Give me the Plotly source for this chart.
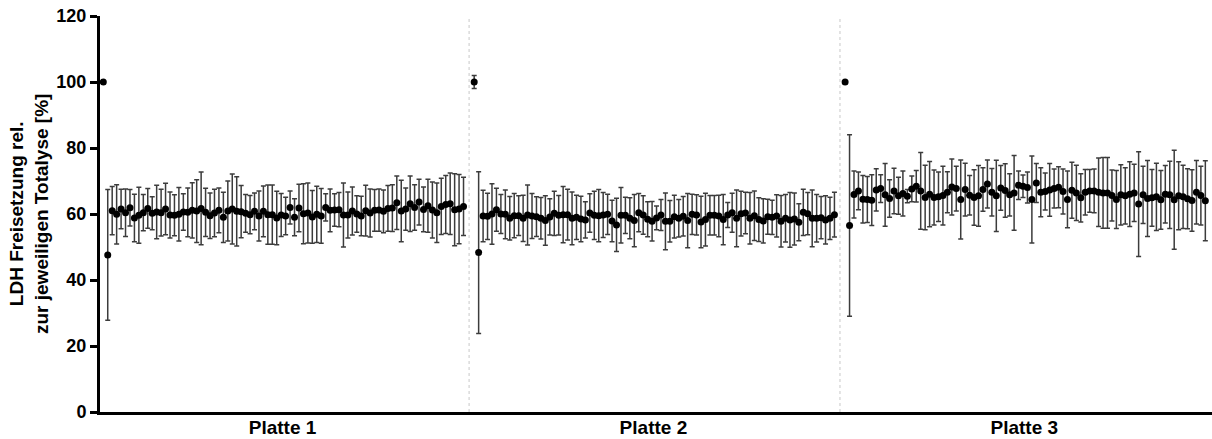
import plotly.graph_objects as go

plates = ["Platte 1", "Platte 2", "Platte 3"]

# controls per plate: total lysis and untreated control
total_mean = [100.0, 100.0, 100.0]
total_sd = [0.0, 2.0, 0.0]
ctrl_mean = [47.6, 48.3, 56.5]
ctrl_sd = [19.8, 24.5, 27.5]

plate1_mean = [61.0, 59.9, 61.5, 60.4, 61.9, 58.8, 59.6, 60.4, 61.7, 60.2,
               60.6, 60.4, 61.5, 59.7, 59.6, 59.9, 60.6, 60.5, 61.1, 60.9,
               61.7, 60.5, 59.5, 60.3, 61.1, 59.0, 60.9, 61.5, 60.8, 60.7,
               60.2, 59.8, 60.8, 59.4, 60.8, 59.8, 59.8, 58.8, 59.7, 59.4,
               62.0, 59.0, 61.8, 60.1, 60.3, 59.1, 59.9, 59.4, 62.0, 61.1,
               61.2, 61.3, 59.7, 59.7, 60.9, 60.0, 59.4, 61.0, 60.3, 61.1,
               61.2, 60.8, 61.7, 61.8, 63.4, 60.9, 61.5, 63.1, 62.0, 63.6,
               61.4, 62.5, 61.2, 60.4, 62.3, 62.9, 63.1, 61.3, 61.5, 62.3]
plate1_sd = [7.3, 9.0, 6.0, 7.2, 5.5, 7.2, 8.5, 5.5, 6.0, 5.0,
             8.1, 7.1, 7.8, 7.0, 6.2, 8.1, 5.5, 7.4, 8.4, 9.5,
             11.0, 7.3, 6.9, 7.2, 6.8, 7.6, 9.1, 10.6, 10.5, 7.9,
             5.7, 5.8, 5.6, 7.6, 7.7, 9.0, 9.0, 8.1, 6.5, 5.7,
             5.0, 5.6, 7.2, 9.1, 9.1, 8.0, 8.5, 8.3, 4.1, 6.5,
             4.9, 5.2, 9.7, 7.0, 7.3, 5.5, 6.0, 7.7, 7.3, 6.3,
             6.4, 6.5, 6.9, 7.1, 8.1, 9.3, 6.4, 8.4, 6.9, 6.9,
             6.8, 8.0, 8.5, 9.0, 8.5, 8.8, 9.3, 10.9, 10.5, 8.8]

plate2_mean = [59.4, 59.3, 60.0, 61.3, 60.0, 59.9, 58.7, 59.5, 59.5, 58.7,
               59.7, 59.4, 59.2, 58.7, 58.0, 59.1, 60.2, 59.6, 59.8, 59.8,
               58.7, 59.0, 58.5, 58.2, 60.3, 59.6, 59.5, 59.7, 59.9, 57.9,
               56.7, 59.6, 59.6, 58.7, 58.0, 60.4, 59.7, 58.4, 57.8, 58.8,
               59.7, 57.8, 57.8, 59.2, 58.7, 59.3, 58.0, 59.9, 59.7, 57.6,
               58.3, 59.6, 59.6, 59.4, 58.3, 59.7, 60.4, 58.7, 60.1, 60.3,
               58.7, 59.5, 58.3, 57.9, 59.2, 59.0, 59.4, 57.8, 58.7, 58.2,
               58.5, 57.5, 60.5, 60.1, 58.7, 58.7, 58.9, 58.2, 58.7, 59.8]
plate2_sd = [7.8, 7.0, 9.2, 6.5, 5.9, 7.4, 6.6, 6.7, 6.0, 7.0,
             9.1, 6.8, 6.0, 6.3, 7.5, 5.5, 6.7, 6.0, 8.5, 7.7,
             8.0, 6.7, 6.9, 5.5, 5.8, 7.3, 7.9, 6.8, 6.1, 6.3,
             8.1, 8.4, 5.5, 6.2, 7.9, 5.8, 5.8, 5.3, 6.0, 3.6,
             4.7, 8.6, 6.3, 6.5, 5.7, 6.0, 8.2, 6.1, 6.1, 7.8,
             8.0, 6.0, 6.0, 6.3, 7.6, 3.8, 5.9, 8.6, 6.8, 6.3,
             7.8, 7.5, 6.6, 6.7, 5.3, 5.2, 6.4, 7.8, 7.2, 8.3,
             7.9, 5.6, 7.0, 6.4, 8.6, 7.2, 6.4, 7.3, 6.4, 6.8]

plate3_mean = [65.9, 67.0, 64.5, 64.4, 64.2, 67.3, 67.7, 65.8, 64.7, 67.0,
               65.5, 66.2, 65.4, 67.6, 68.4, 67.0, 65.0, 66.0, 65.0, 65.2,
               65.6, 66.6, 68.2, 67.7, 64.4, 67.4, 65.7, 65.0, 65.5, 67.4,
               69.1, 66.6, 65.5, 67.9, 67.1, 65.8, 66.4, 68.7, 68.4, 68.0,
               64.4, 69.4, 66.6, 66.8, 67.3, 67.7, 68.1, 66.8, 64.4, 67.2,
               66.4, 64.9, 66.6, 67.0, 67.0, 66.6, 66.4, 66.4, 65.6, 64.4,
               65.8, 65.5, 66.0, 66.4, 63.0, 65.8, 64.7, 64.9, 65.2, 64.3,
               66.0, 65.8, 64.3, 65.5, 65.2, 64.6, 64.1, 66.6, 65.6, 64.0]
plate3_sd = [7.1, 5.7, 7.2, 7.0, 7.7, 6.4, 4.2, 9.5, 5.7, 6.9,
             5.6, 6.8, 2.0, 3.9, 4.8, 11.6, 9.8, 9.9, 8.3, 7.5,
             8.9, 6.2, 8.5, 6.8, 12.0, 8.0, 6.0, 8.4, 9.2, 6.6,
             7.3, 7.2, 10.8, 6.8, 8.1, 6.4, 11.3, 4.3, 3.4, 4.7,
             13.2, 5.9, 7.4, 5.6, 8.0, 5.9, 6.2, 6.8, 8.6, 8.5,
             8.4, 7.3, 6.9, 6.5, 6.6, 10.4, 10.7, 10.7, 7.7, 8.8,
             9.1, 8.5, 9.8, 8.7, 15.9, 8.7, 11.5, 8.6, 10.2, 8.9,
             8.7, 10.2, 15.0, 10.3, 9.6, 9.1, 9.3, 9.6, 8.9, 12.1]

sample_means = [plate1_mean, plate2_mean, plate3_mean]
sample_sds = [plate1_sd, plate2_sd, plate3_sd]

y_ticks = [0, 20, 40, 60, 80, 100, 120]

# slot layout on the x axis
plate_span = 83.4

xs, ys, es = [], [], []
for p in range(3):
    base = p * plate_span
    vals = [total_mean[p], ctrl_mean[p]] + sample_means[p]
    errs = [total_sd[p], ctrl_sd[p]] + sample_sds[p]
    for i, (v, e) in enumerate(zip(vals, errs)):
        xs.append(base + i)
        ys.append(v)
        es.append(e)

fig = go.Figure()
fig.add_trace(go.Scatter(
    x=xs, y=ys, mode="markers",
    marker=dict(color="black", size=7),
    error_y=dict(type="data", array=es, visible=True,
                 color="#3c3c3c", thickness=1.5, width=2.5),
    showlegend=False, hoverinfo="skip",
))

for p in range(1, 3):
    xb = p * plate_span - 1.15
    fig.add_shape(type="line", xref="x", yref="paper", x0=xb, x1=xb, y0=0, y1=1,
                  line=dict(color="#c8c8c8", width=1, dash="dot"), layer="below")

tick_centers = [p * plate_span + 40.3 for p in range(3)]

fig.update_layout(
    width=1212, height=439,
    margin=dict(l=100, r=0, t=16, b=27, autoexpand=False),
    plot_bgcolor="white", paper_bgcolor="white",
    font=dict(family="Liberation Sans, Arial, sans-serif", color="black"),
    xaxis=dict(range=[-0.74, 249.3], tickvals=tick_centers, ticktext=plates,
               ticks="", showgrid=False, zeroline=False, automargin=False,
               ticklabelstandoff=-4,
               showline=True, linecolor="black", linewidth=3,
               tickfont=dict(size=19, weight="bold", color="black")),
    yaxis=dict(range=[0, 120], tickvals=y_ticks, ticks="outside", ticklen=7,
               tickwidth=2.5, tickcolor="black", showgrid=False, zeroline=False,
               automargin=False,
               showline=True, linecolor="black", linewidth=3,
               tickfont=dict(size=18, weight="bold", color="black")),
)

fig.add_annotation(
    text="LDH Freisetzung rel.<br>zur jeweiligen Totalyse [%]",
    xref="paper", yref="paper", x=0, y=0.5, xanchor="right", yanchor="middle",
    xshift=-46, textangle=-90, showarrow=False,
    font=dict(size=19, weight="bold", color="black"),
)

fig.write_html("out.html")
